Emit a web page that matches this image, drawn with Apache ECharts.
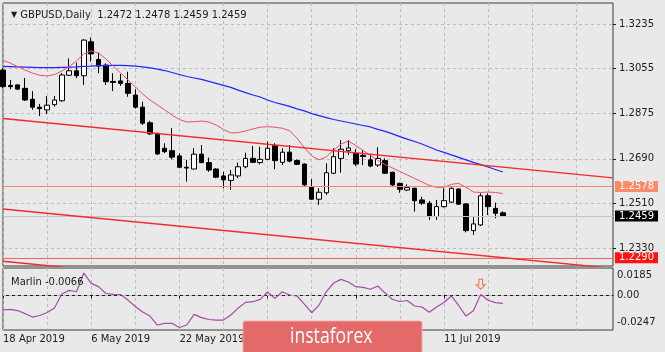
<!DOCTYPE html>
<html>
<head>
<meta charset="utf-8">
<script src="https://cdn.jsdelivr.net/npm/echarts@6/dist/echarts.min.js"></script>
<style>
html,body{margin:0;padding:0;background:#e9e9e9;}
#c{width:665px;height:352px;}
</style>
</head>
<body>
<div id="c"></div>
<script>
// ---- categories (trading days) ----
const dates = [
'18 Apr 2019','19 Apr 2019','22 Apr 2019','23 Apr 2019','24 Apr 2019','25 Apr 2019','26 Apr 2019','29 Apr 2019','30 Apr 2019',
'1 May 2019','2 May 2019','3 May 2019','6 May 2019','7 May 2019','8 May 2019','9 May 2019','10 May 2019',
'13 May 2019','14 May 2019','15 May 2019','16 May 2019','17 May 2019','20 May 2019','21 May 2019','22 May 2019',
'23 May 2019','24 May 2019','27 May 2019','28 May 2019','29 May 2019','30 May 2019','31 May 2019',
'3 Jun 2019','4 Jun 2019','5 Jun 2019','6 Jun 2019','7 Jun 2019','10 Jun 2019','11 Jun 2019','12 Jun 2019','13 Jun 2019','14 Jun 2019',
'17 Jun 2019','18 Jun 2019','19 Jun 2019','20 Jun 2019','21 Jun 2019','24 Jun 2019','25 Jun 2019','26 Jun 2019','27 Jun 2019','28 Jun 2019',
'1 Jul 2019','2 Jul 2019','3 Jul 2019','4 Jul 2019','5 Jul 2019','8 Jul 2019','9 Jul 2019','10 Jul 2019','11 Jul 2019','12 Jul 2019',
'15 Jul 2019','16 Jul 2019','17 Jul 2019','18 Jul 2019','19 Jul 2019','22 Jul 2019','23 Jul 2019','24 Jul 2019','25 Jul 2019','26 Jul 2019',
'29 Jul 2019','30 Jul 2019','31 Jul 2019','1 Aug 2019','2 Aug 2019','5 Aug 2019','6 Aug 2019','7 Aug 2019','8 Aug 2019','9 Aug 2019',
'12 Aug 2019','13 Aug 2019'
];
const dateLabels = ['18 Apr 2019','6 May 2019','22 May 2019','7 Jun 2019','25 Jun 2019','11 Jul 2019'];

// ---- OHLC ----
const candleOpen = [1.3049,1.2987,1.2989,1.2975,1.2931,1.2899,1.2888,1.2909,1.2925,1.3028,1.3046,1.3026,1.3163,1.3092,1.3069,1.3003,1.3005,1.2995,1.2948,1.2899,1.2836,1.2793,1.2733,1.2723,1.2702,1.2656,1.2649,1.2709,1.2675,1.2649,1.2621,1.2603,1.2621,1.2658,1.2692,1.2675,1.2688,1.2743,1.2676,1.2717,1.2683,1.2669,1.2578,1.2527,1.2553,1.2632,1.2692,1.2723,1.2713,1.2704,1.2686,1.2665,1.2683,1.2636,1.2591,1.2564,1.2571,1.2524,1.2511,1.2457,1.2497,1.2515,1.2568,1.2508,1.2400,1.2423,1.2541,1.2490,1.2472];
const candleHigh = [1.3057,1.3009,1.2991,1.3017,1.2964,1.2912,1.2944,1.2944,1.3037,1.3096,1.3079,1.3174,1.3181,1.3119,1.3076,1.3036,1.3033,1.3042,1.2971,1.2921,1.2844,1.2796,1.2753,1.2814,1.2713,1.2686,1.2733,1.2746,1.2695,1.2652,1.2638,1.2645,1.2675,1.2715,1.2742,1.2739,1.2760,1.2753,1.2733,1.2746,1.2688,1.2672,1.2608,1.2571,1.2672,1.2733,1.2766,1.2766,1.2729,1.2726,1.2710,1.2737,1.2692,1.2638,1.2594,1.2587,1.2574,1.2537,1.2520,1.2524,1.2571,1.2575,1.2571,1.2511,1.2454,1.2551,1.2551,1.2513,1.2478];
const candleLow = [1.2976,1.2971,1.2968,1.2924,1.2888,1.2863,1.2871,1.2901,1.2921,1.3025,1.3016,1.2989,1.3083,1.3036,1.2989,1.2964,1.2985,1.2941,1.2893,1.2827,1.2787,1.2706,1.2713,1.2688,1.2652,1.2598,1.2648,1.2672,1.2638,1.2612,1.2571,1.2564,1.2612,1.2652,1.2675,1.2668,1.2686,1.2648,1.2665,1.2676,1.2665,1.2578,1.2524,1.2504,1.2544,1.2628,1.2634,1.2706,1.2661,1.2665,1.2656,1.2658,1.2629,1.2578,1.2553,1.2561,1.2477,1.2504,1.2443,1.2443,1.2493,1.2511,1.2504,1.2393,1.2383,1.2419,1.2463,1.2450,1.2459];
const candleClose = [1.2982,1.2982,1.2972,1.2928,1.2899,1.2893,1.2907,1.2928,1.3029,1.3046,1.3026,1.3170,1.3114,1.3065,1.3002,1.2999,1.2995,1.2955,1.2899,1.2834,1.2791,1.2710,1.2719,1.2697,1.2656,1.2653,1.2709,1.2675,1.2645,1.2616,1.2605,1.2625,1.2658,1.2692,1.2676,1.2688,1.2733,1.2683,1.2717,1.2681,1.2668,1.2585,1.2527,1.2555,1.2634,1.2699,1.2729,1.2734,1.2669,1.2700,1.2661,1.2692,1.2632,1.2585,1.2567,1.2574,1.2521,1.2511,1.2457,1.2497,1.2521,1.2571,1.2507,1.2400,1.2427,1.2541,1.2497,1.2470,1.2459];

// ---- moving averages ----
const maFast = [1.3088,1.3077,1.3063,1.3049,1.3037,1.3028,1.3025,1.3031,1.3045,1.3063,1.3086,1.3114,1.3126,1.3118,1.3094,1.3065,1.3037,1.3009,1.2981,1.2952,1.2928,1.2908,1.2888,1.2867,1.2849,1.2839,1.2840,1.2843,1.2839,1.2827,1.2809,1.2795,1.2796,1.2803,1.2811,1.2818,1.2820,1.2818,1.2814,1.2803,1.2774,1.2736,1.2702,1.2686,1.2698,1.2726,1.2750,1.2762,1.2744,1.2724,1.2704,1.2684,1.2667,1.2653,1.2639,1.2625,1.2611,1.2597,1.2583,1.2575,1.2575,1.2587,1.2591,1.2575,1.2556,1.2554,1.2556,1.2554,1.2550];
const maSlow = [1.3064,1.3063,1.3062,1.3061,1.3060,1.3059,1.3059,1.3059,1.3060,1.3061,1.3062,1.3064,1.3065,1.3067,1.3067,1.3068,1.3068,1.3067,1.3065,1.3062,1.3058,1.3053,1.3047,1.3039,1.3031,1.3023,1.3017,1.3011,1.3003,1.2995,1.2987,1.2979,1.2968,1.2958,1.2948,1.2940,1.2928,1.2918,1.2910,1.2902,1.2892,1.2884,1.2873,1.2865,1.2857,1.2849,1.2843,1.2837,1.2831,1.2825,1.2819,1.2809,1.2801,1.2791,1.2780,1.2770,1.2760,1.2750,1.2738,1.2726,1.2716,1.2706,1.2696,1.2686,1.2676,1.2667,1.2657,1.2647,1.2637];

// ---- Marlin oscillator ----
const marlin = [-0.0136,-0.0130,-0.0141,-0.0169,-0.0201,-0.0187,-0.0159,-0.0118,0.0012,0.0046,0.0033,0.0206,0.0111,0.0081,0.0017,0.0009,0.0007,-0.0044,-0.0104,-0.0155,-0.0192,-0.0275,-0.0259,-0.0259,-0.0298,-0.0275,-0.0176,-0.0206,-0.0224,-0.0229,-0.0229,-0.0182,-0.0118,-0.0065,-0.0059,-0.0037,0.0031,-0.0028,0.0033,0.0003,-0.0006,-0.0081,-0.0161,-0.0090,0.0035,0.0114,0.0148,0.0123,0.0080,0.0074,0.0056,0.0086,0.0021,-0.0039,-0.0057,-0.0048,-0.0099,-0.0108,-0.0157,-0.0108,-0.0067,-0.0006,-0.0094,-0.0192,-0.0143,0.0007,-0.0046,-0.0068,-0.0075];
const signalBar = 65;
const signalValue = 0.0102;

// ---- trend lines (value at first and last category) ----
const upperTrend = [1.2853, 1.2613];
const lowerTrend = [1.24875, 1.22475];
const bottomTrend = [1.2276, 1.2036];

// ---- levels & ticks ----
const levelLines = [1.2578, 1.2459, 1.2290];
const priceTicks = [1.3235, 1.3055, 1.2875, 1.2690, 1.2510, 1.2330];
const marlinTicks = [0.0185, 0, -0.0247];

const FONT = 'DejaVu Sans';
const GRIDC = '#bcbcbc';
const levelLineColors = ['#f3866a', '#c4c4c4', '#f26464'];
const levelBgColors = ['#fb8b68', '#000000', '#ff1414'];

const last = dates.length - 1;
const ohlc = candleOpen.map((o, i) => [o, candleClose[i], candleLow[i], candleHigh[i]]);
const trend = a => [[0, a[0]], [last, a[1]]];

const chart = echarts.init(document.getElementById('c'), null, {renderer: 'canvas'});
chart.setOption({
  animation: false,
  backgroundColor: '#e9e9e9',
  title: [
    {text: '{t|▼} GBPUSD,Daily  1.2472 1.2478 1.2459 1.2459', left: 6, top: 5,
     textStyle: {fontFamily: FONT, fontSize: 10, fontWeight: 'normal', color: '#1c1c1c',
       rich: {t: {fontSize: 8, color: '#1c1c1c', fontFamily: FONT}}}},
    {text: 'Marlin -0.0066', left: 6, top: 272,
     textStyle: {fontFamily: FONT, fontSize: 10, fontWeight: 'normal', color: '#1c1c1c'}}
  ],
  grid: [
    {left: 3, top: 3, width: 610, height: 263, show: true, borderColor: '#3a3a3a', borderWidth: 1, backgroundColor: 'transparent'},
    {left: 3, top: 268, width: 610, height: 62, show: true, borderColor: '#3a3a3a', borderWidth: 1, backgroundColor: 'transparent'}
  ],
  xAxis: [
    {type: 'category', gridIndex: 0, data: dates, boundaryGap: false,
     axisLine: {show: false}, axisTick: {show: false}, axisLabel: {show: false},
     splitLine: {show: true, interval: (i) => i % 6 === 0, lineStyle: {color: GRIDC, type: [3, 3]}}},
    {type: 'category', gridIndex: 1, data: dates, boundaryGap: false,
     axisLine: {show: true, lineStyle: {color: '#1a1a1a'}},
     axisTick: {show: true, length: 3, interval: (i, v) => dateLabels.indexOf(v) >= 0, lineStyle: {color: '#1a1a1a'}},
     axisLabel: {interval: (i, v) => dateLabels.indexOf(v) >= 0, align: 'left', margin: 4,
       fontFamily: FONT, fontSize: 10, color: '#1c1c1c'},
     splitLine: {show: true, interval: (i) => i % 6 === 0, lineStyle: {color: GRIDC, type: [3, 3]}}}
  ],
  yAxis: [
    {type: 'value', gridIndex: 0, position: 'right', min: 1.2257, max: 1.3320,
     axisLine: {show: false},
     axisTick: {show: true, length: 3, customValues: priceTicks, lineStyle: {color: '#1a1a1a'}},
     axisLabel: {customValues: priceTicks, formatter: v => v.toFixed(4), margin: 6,
       fontFamily: FONT, fontSize: 10, color: '#1c1c1c'},
     splitLine: {show: true, lineStyle: {color: GRIDC, type: [3, 3]}}},
    {type: 'value', gridIndex: 1, position: 'right', min: -0.0321, max: 0.0253,
     axisLine: {show: false}, axisTick: {show: false},
     axisLabel: {customValues: marlinTicks, formatter: v => (v === 0 ? '0.00' : v.toFixed(4)), margin: 4,
       fontFamily: FONT, fontSize: 10, color: '#1c1c1c'},
     splitLine: {show: false}}
  ],
  series: [
    {type: 'candlestick', xAxisIndex: 0, yAxisIndex: 0, data: ohlc, barWidth: 5, z: 3,
     itemStyle: {color: '#ffffff', color0: '#000000', borderColor: '#000000', borderColor0: '#000000', borderWidth: 1},
     markLine: {silent: true, symbol: 'none', animation: false, precision: 4,
       data: levelLines.map((v, i) => ({
         yAxis: v,
         lineStyle: {color: levelLineColors[i], width: 1, type: 'solid'},
         label: {show: true, position: 'end', distance: 2, formatter: () => v.toFixed(4),
           color: '#ffffff', fontFamily: FONT, fontSize: 10, lineHeight: 11,
           backgroundColor: levelBgColors[i], padding: [0, 4, 0, 4]}
       }))}},
    {type: 'line', xAxisIndex: 0, yAxisIndex: 0, data: maSlow, symbol: 'none', z: 4,
     lineStyle: {color: '#2424ff', width: 1.2}},
    {type: 'line', xAxisIndex: 0, yAxisIndex: 0, data: maFast, symbol: 'none', z: 4,
     lineStyle: {color: '#e8506e', width: 1}},
    {type: 'line', xAxisIndex: 0, yAxisIndex: 0, data: trend(upperTrend), symbol: 'none', z: 5,
     lineStyle: {color: '#f42a2a', width: 1.4}},
    {type: 'line', xAxisIndex: 0, yAxisIndex: 0, data: trend(lowerTrend), symbol: 'none', z: 5,
     lineStyle: {color: '#f42a2a', width: 1.4}},
    {type: 'line', xAxisIndex: 0, yAxisIndex: 0, data: trend(bottomTrend), symbol: 'none', z: 5,
     lineStyle: {color: '#f42a2a', width: 1.4}},
    {type: 'line', xAxisIndex: 1, yAxisIndex: 1, data: marlin, symbol: 'none', z: 4,
     lineStyle: {color: '#a54aa8', width: 1.2},
     markLine: {silent: true, symbol: 'none', label: {show: false},
       data: [{yAxis: 0}], lineStyle: {color: GRIDC, type: [3, 3], width: 1}}},
    {type: 'scatter', xAxisIndex: 1, yAxisIndex: 1, data: [[signalBar, signalValue]], z: 6,
     symbol: 'path://M3,0 L7,0 L7,6 L10,6 L5,11 L0,6 L3,6 Z', symbolSize: [9, 10],
     itemStyle: {color: '#fde3dc', borderColor: '#ff4a2a', borderWidth: 1}}
  ],
  graphic: [
    {type: 'rect', z: 100, shape: {x: 243, y: 321, width: 179, height: 40, r: 2},
     style: {fill: '#e46a6a', stroke: '#f0a8a8', lineWidth: 1}},
    {type: 'text', z: 101, x: 290, y: 337, scaleX: 0.8,
     style: {text: 'instaforex', fill: '#ffffff', font: '22px "Open Sans"', verticalAlign: 'middle'}}
  ]
});
</script>
</body>
</html>
